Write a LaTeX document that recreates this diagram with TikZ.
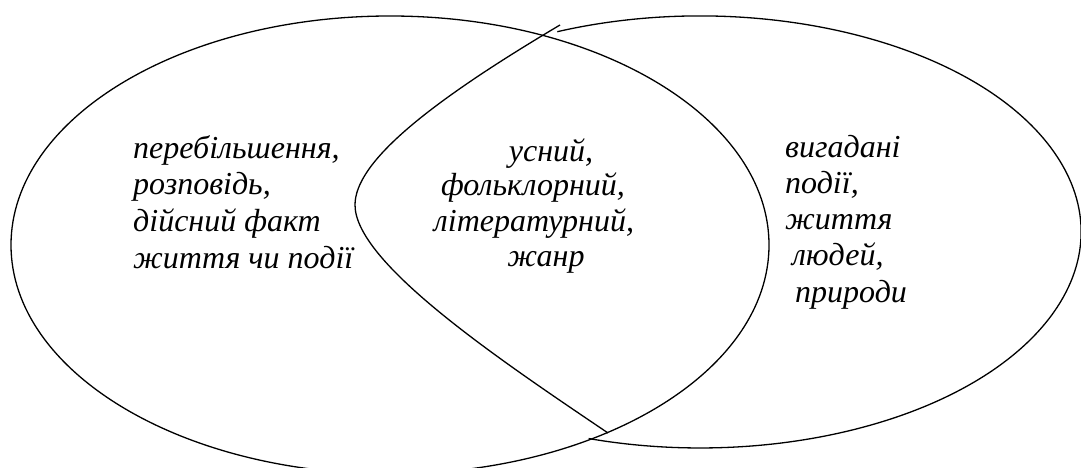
\documentclass[tikz,border=0pt]{standalone}
\usepackage{fontspec}
\setmainfont{Liberation Serif}
\begin{document}
\begin{tikzpicture}[x=1pt,y=1pt,
  line/.style={line width=1.3pt,black},
  lbl/.style={inner sep=0pt,font=\itshape\fontsize{32}{36}\selectfont},
  lw/.style={lbl,anchor=base west},
  lc/.style={lbl,anchor=base}]
\useasboundingbox (0,0) rectangle (1081,468);
% left ellipse
\draw[line] (390,223) ellipse [x radius=379pt, y radius=229pt];
% right shape: outer arc
\draw[line] (557.3,436.3) arc[start angle=112, end angle=-107, x radius=381pt, y radius=216pt];
% right shape: lens side
\draw[line] (608,35) .. controls (500,108) and (355,205) .. (355,263)
  .. controls (355,305) and (425,363) .. (560,443);
% left texts
\node[lw] (l1) at (133,309) {перебільшення,};
\node[lw] (l2) at (133,273) {розповідь,};
\node[lw] (l3) at (133,236) {дійсний факт};
\node[lw] (l4) at (133,199) {життя чи події};
% middle texts
\node[lc] (m1) at (551,306) {усний,};
\node[lc] (m2) at (533,272) {фольклорний,};
\node[lc] (m3) at (534,236) {літературний,};
\node[lc] (m4) at (546,201) {жанр};
% right texts
\node[lw] (r1) at (785,310) {вигадані};
\node[lw] (r2) at (785,274) {події,};
\node[lw] (r3) at (785,238) {життя};
\node[lw] (r4) at (792,202) {людей,};
\node[lw] (r5) at (795,165) {природи};
\end{tikzpicture}
\end{document}
